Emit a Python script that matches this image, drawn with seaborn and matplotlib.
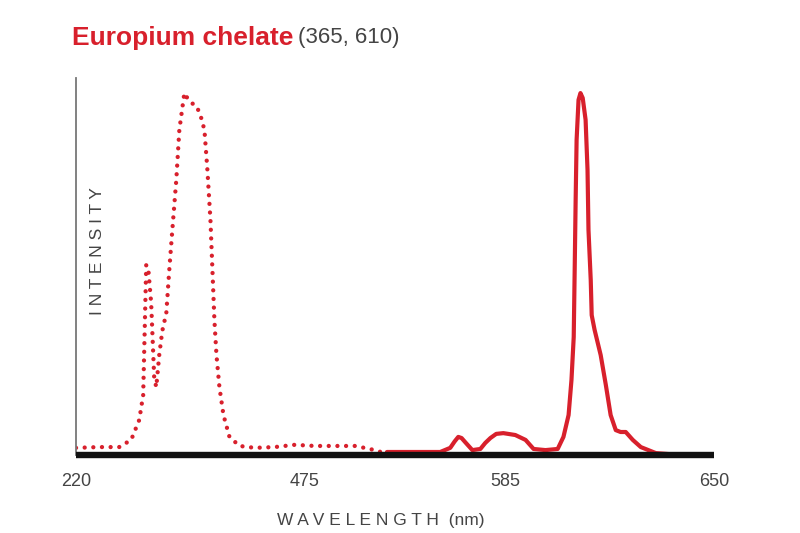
import numpy as np
import pandas as pd
import matplotlib
matplotlib.use("Agg")
import matplotlib.pyplot as plt
import seaborn as sns

# ---- data (wavelength in nm, relative intensity) ----
ex_nm = [220, 245.7, 268.1, 281.5, 290.5, 294.9, 298.3, 300.5, 303.8, 307.2, 309.5,
         312.8, 316.2, 320.7, 324.0, 327.4, 331.8, 335.2, 340.8, 344.1, 348.6, 354.2,
         358.7, 363.2, 366.5, 369.9, 372.1, 374.3, 376.6, 379.9, 384.4, 391.1, 402.3,
         419.1, 441.4, 463.8, 480.5, 491.5, 502.5, 510.8, 519.0]
ex_int = [1.9, 2.1, 2.1, 4.0, 9.3, 15.9, 50.4, 49.6, 40.3, 20.4, 18.0,
          26.5, 32.9, 37.7, 49.1, 59.7, 72.9, 86.2, 96.0, 94.7, 93.4, 92.6,
          90.2, 86.2, 75.6, 62.3, 49.1, 35.8, 26.5, 18.0, 10.6, 4.8, 2.4,
          1.9, 2.1, 2.7, 2.4, 2.4, 2.4, 1.6, 0.5]

em_nm = [520.1, 549.3, 554.8, 557.2, 559.2, 561.0, 563.0, 566.9, 571.3, 574.0, 576.8,
         580.0, 583.9, 588.1, 591.3, 593.8, 597.5, 601.3, 603.1, 604.7, 605.6, 606.3,
         606.6, 606.9, 607.2, 607.8, 608.4, 609.1, 610.0, 610.6, 610.9, 611.6, 611.9,
         612.8, 614.7, 616.3, 617.8, 619.4, 620.9, 622.5, 624.7, 627.2, 631.9, 639.7, 650]
em_int = [0.8, 0.8, 1.9, 3.6, 4.8, 4.5, 3.4, 1.3, 1.6, 3.2, 4.5,
          5.6, 5.8, 5.3, 4.0, 1.6, 1.3, 1.6, 4.8, 10.6, 19.9, 31.3,
          49.1, 67.6, 83.6, 94.2, 96.0, 94.7, 88.9, 75.6, 59.7, 46.4, 37.1,
          33.2, 26.5, 18.6, 10.6, 6.6, 6.1, 6.1, 4.0, 2.1, 0.5, 0.0, 0.0]

tick_vals = [220, 475, 585, 650]
tick_labels = ["220", "475", "585", "650"]

title_main = "Europium chelate"
title_sub = "(365, 610)"
x_label = "W A V E L E N G T H  (nm)"
y_label = "I N T E N S I T Y"

# ---- style ----
RED = "#d8202c"
GRAY = "#444444"

sns.set_theme(style="white")
plt.rcParams["font.family"] = ["Liberation Sans", "DejaVu Sans"]

fig = plt.figure(figsize=(8, 5.33), dpi=100)
ax = fig.add_axes([76 / 800, (533 - 455) / 533, (714 - 76) / 800, (455 - 78) / 533])

ex_df = pd.DataFrame({"nm": ex_nm, "intensity": ex_int})
em_df = pd.DataFrame({"nm": em_nm, "intensity": em_int})

sns.lineplot(data=ex_df, x="nm", y="intensity", ax=ax, color=RED, lw=3.1,
             estimator=None, sort=False, linestyle=(0, (0.01, 2.0)),
             dash_capstyle="round")
sns.lineplot(data=em_df, x="nm", y="intensity", ax=ax, color=RED, lw=3.0,
             estimator=None, sort=False, solid_capstyle="round",
             solid_joinstyle="round")

# non-linear (piecewise) wavelength axis as in the reference
anch_nm = np.array([220, 475, 585, 650], dtype=float)
anch_px = np.array([0, 228, 428, 636], dtype=float)

def fwd(x):
    return np.interp(x, anch_nm, anch_px)

def inv(p):
    return np.interp(p, anch_px, anch_nm)

ax.set_xscale("function", functions=(fwd, inv))
ax.set_xlim(220, 650)
ax.set_ylim(0, 100)

ax.set_xticks(tick_vals)
ax.set_xticklabels(tick_labels)
ax.set_yticks([])
ax.tick_params(axis="x", direction="in", length=9, width=1.2, color="#555555",
               labelsize=13, labelcolor=GRAY, pad=13)

for s in ["top", "right"]:
    ax.spines[s].set_visible(False)
ax.spines["left"].set_color("#777777")
ax.spines["left"].set_linewidth(1.3)
ax.spines["bottom"].set_color("#111111")
ax.spines["bottom"].set_linewidth(4.6)
ax.spines["bottom"].set_capstyle("butt")

ax.set_xlabel(x_label, fontsize=12.5, color=GRAY)
ax.xaxis.set_label_coords((381 - 76) / 638, -0.155)
ax.set_ylabel(y_label, fontsize=12.5, color=GRAY)
ax.yaxis.set_label_coords(0.045, 0.54)

t1 = fig.text(72 / 800, 1 - 38 / 533, title_main, color=RED, fontsize=19,
              fontweight="bold", ha="left", va="center")
ax.annotate(title_sub, xy=(1, 0.5), xycoords=t1, xytext=(3, 0),
            textcoords="offset points", color=GRAY, fontsize=16,
            ha="left", va="center", annotation_clip=False)

fig.savefig("out.png", dpi=100)
